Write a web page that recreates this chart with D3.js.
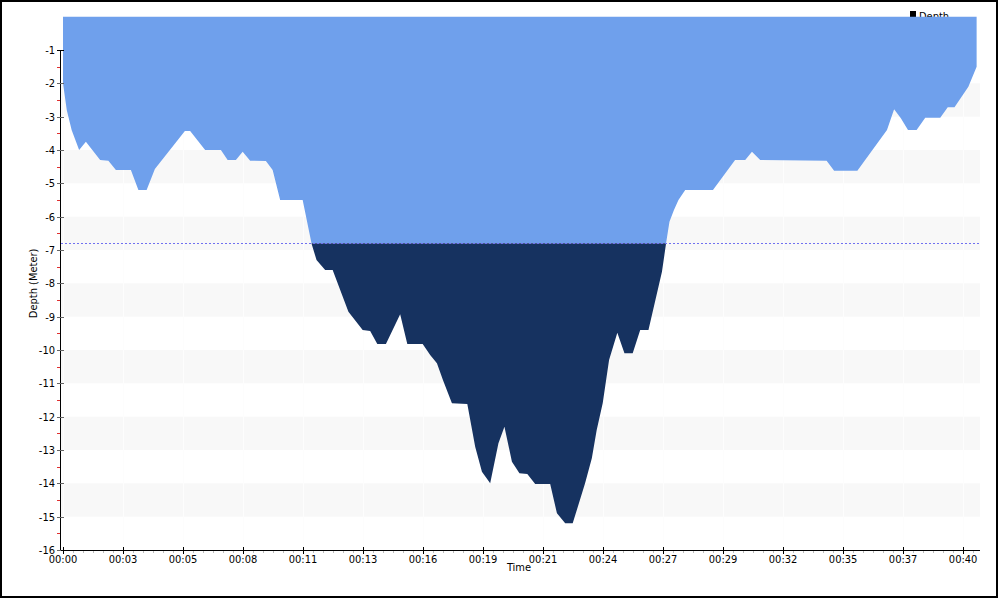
<!DOCTYPE html>
<html><head><meta charset="utf-8">
<script src="https://cdn.jsdelivr.net/npm/d3@7"></script>
<style>
body{margin:0;background:#fff;}
svg text{font-family:"DejaVu Sans Condensed","Liberation Sans",sans-serif;font-size:11px;fill:#000;}
</style></head><body>
<svg id="c" width="1000" height="600"></svg>
<script>
// time in seconds, depth in metres (positive down; shown negative)
const times = [0,10,23,43,61,99,121,141,181,201,223,245,325,339,379,421,439,461,479,499,541,559,579,639,663,676,699,719,761,799,819,838,861,899,918,959,979,997,1013,1037,1078,1099,1117,1139,1161,1177,1197,1217,1238,1259,1299,1317,1339,1359,1392,1410,1423,1439,1456,1478,1497,1519,1539,1561,1597,1608,1617,1629,1641,1659,1733,1792,1819,1837,1859,2036,2056,2118,2197,2216,2234,2253,2276,2299,2339,2359,2377,2414,2436];
const depths = [2.0,2.8,3.4,4.0,3.75,4.3,4.32,4.6,4.6,5.2,5.2,4.57,3.43,3.43,4.0,4.0,4.3,4.3,4.05,4.32,4.33,4.6,5.5,5.5,6.82,7.3,7.6,7.6,8.85,9.4,9.43,9.82,9.82,8.93,9.82,9.82,10.15,10.4,10.9,11.6,11.62,12.9,13.65,14.0,12.8,12.3,13.35,13.7,13.72,14.02,14.02,14.9,15.2,15.2,14.0,13.25,12.4,11.6,10.3,9.48,10.1,10.1,9.4,9.4,7.65,6.8,6.15,5.8,5.5,5.2,5.2,4.3,4.3,4.05,4.3,4.32,4.62,4.62,3.4,2.78,3.05,3.4,3.4,3.03,3.03,2.72,2.72,2.1,1.5];
const xTickSeconds = [0,160,320,480,640,800,960,1120,1280,1440,1600,1760,1920,2080,2240,2400];
const xTickLabels = ["00:00","00:03","00:05","00:08","00:11","00:13","00:16","00:19","00:21","00:24","00:27","00:29","00:32","00:35","00:37","00:40"];
const yTicks = [1,2,3,4,5,6,7,8,9,10,11,12,13,14,15,16];
const threshold = 6.8;
const seriesName = "Depth";

(function(){
const data = times.map((t,i)=>({t, d:depths[i]}));
const svg = d3.select("#c");
const pL=61, pR=980, pT=16.7, pB=550;
const x = d3.scaleLinear().domain([0,2445]).range([63,980]);
const y = d3.scaleLinear().domain([0,16]).range([pT,pB]);

// border
svg.append("rect").attr("x",1).attr("y",1).attr("width",996).attr("height",596)
  .attr("fill","none").attr("stroke","#000").attr("stroke-width",2);

// bands
const bands = [2,4,6,8,10,12,14];
svg.append("g").selectAll("rect").data(bands).join("rect")
  .attr("x",pL).attr("width",pR-pL)
  .attr("y",d=>y(d)).attr("height",d=>y(d+1)-y(d)).attr("fill","#f8f8f8");
// faint vertical grid
svg.append("g").selectAll("line").data(xTickSeconds).join("line")
  .attr("x1",d=>Math.round(x(d))+0.5).attr("x2",d=>Math.round(x(d))+0.5).attr("y1",pT).attr("y2",pB)
  .attr("stroke","#fdfdfd");

// legend (partly hidden by area)
svg.append("rect").attr("x",910).attr("y",11).attr("width",6).attr("height",6).attr("fill","#000");
svg.append("text").attr("x",919).attr("y",20).text(seriesName);

// area clip split
const area = d3.area().x(d=>x(d.t)).y0(y(0)).y1(d=>y(d.d)).curve(d3.curveLinear);
const defs = svg.append("defs");
defs.append("clipPath").attr("id","upper").append("rect")
  .attr("x",0).attr("y",0).attr("width",1000).attr("height",y(threshold));
defs.append("clipPath").attr("id","lower").append("rect")
  .attr("x",0).attr("y",y(threshold)).attr("width",1000).attr("height",600-y(threshold));
svg.append("path").datum(data).attr("d",area).attr("fill","#6fa0ec").attr("clip-path","url(#upper)");
svg.append("path").datum(data).attr("d",area).attr("fill","#163260").attr("clip-path","url(#lower)");

// threshold dotted line
const ty = Math.round(y(threshold))+0.5;
svg.append("line").attr("x1",pL).attr("x2",pR).attr("y1",ty).attr("y2",ty)
  .attr("stroke","#7070f0").attr("stroke-dasharray","2,2");

// Y axis
const ax = 60.5;
svg.append("line").attr("x1",ax).attr("x2",ax).attr("y1",y(1)).attr("y2",y(16)).attr("stroke","#000");
const yg = svg.append("g");
yg.selectAll("line.maj").data(yTicks).join("line").attr("class","maj")
  .attr("x1",57).attr("x2",64).attr("y1",d=>Math.round(y(d))+0.5).attr("y2",d=>Math.round(y(d))+0.5)
  .attr("stroke",(d,i)=>i===0?"#000":"#666");
yg.selectAll("line.min").data(yTicks.slice(0,15)).join("line").attr("class","min")
  .attr("x1",57).attr("x2",60).attr("y1",d=>Math.round(y(d+0.5))+0.5).attr("y2",d=>Math.round(y(d+0.5))+0.5)
  .attr("stroke","#e03030");
yg.selectAll("text").data(yTicks).join("text")
  .attr("x",55).attr("y",d=>y(d)+4).attr("text-anchor","end").text(d=>"-"+d);
svg.append("text").attr("transform","translate(37,"+((pT+pB)/2)+") rotate(-90)")
  .attr("text-anchor","middle").text("Depth (Meter)");

// X axis
svg.append("line").attr("x1",pL).attr("x2",pR).attr("y1",550.5).attr("y2",550.5).attr("stroke","#000");
const minor = d3.range(0,2445,160/6).filter(s=>!xTickSeconds.some(m=>Math.abs(m-s)<1));
svg.append("g").selectAll("line").data(minor).join("line")
  .attr("x1",d=>Math.round(x(d))+0.5).attr("x2",d=>Math.round(x(d))+0.5).attr("y1",551).attr("y2",553)
  .attr("stroke","#bbb");
const xg = svg.append("g");
xg.selectAll("line").data(xTickSeconds).join("line")
  .attr("x1",d=>Math.round(x(d))+0.5).attr("x2",d=>Math.round(x(d))+0.5).attr("y1",547).attr("y2",554)
  .attr("stroke","#000");
xg.selectAll("text").data(xTickSeconds).join("text")
  .attr("x",d=>x(d)).attr("y",563).attr("text-anchor","middle").text((d,i)=>xTickLabels[i]);
svg.append("text").attr("x",519).attr("y",571).attr("text-anchor","middle").text("Time");
})();
</script>
</body></html>
